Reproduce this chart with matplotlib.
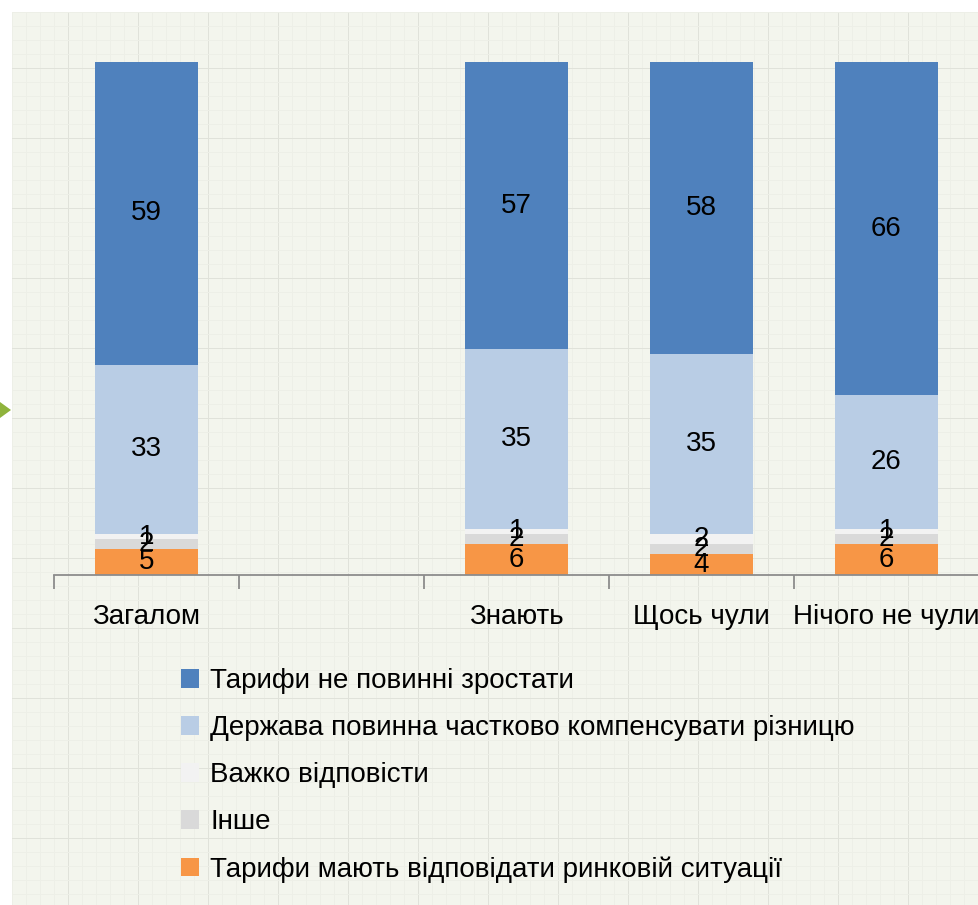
import numpy as np
import matplotlib.pyplot as plt
from matplotlib.patches import Polygon, Patch

plt.rcParams['font.family'] = ['Liberation Sans Narrow', 'Liberation Sans', 'DejaVu Sans']

# data (bottom -> top of each stack)
groups = ['Загалом', '', 'Знають', 'Щось чули', 'Нічого не чули']
series_names = ['Тарифи не повинні зростати',
                'Держава повинна частково компенсувати різницю',
                'Важко відповісти',
                'Інше',
                'Тарифи мають відповідати ринковій ситуації']
market = [5, 0, 6, 4, 6]
other = [2, 0, 2, 2, 2]
hard = [1, 0, 1, 2, 1]
state = [33, 0, 35, 35, 26]
no_rise = [59, 0, 57, 58, 66]

colors = {'no_rise': '#4f81bd', 'state': '#b9cde5', 'hard': '#f2f2f2',
          'other': '#d9d9d9', 'market': '#f79646'}

W, H = 979, 905
fs = 20
fig = plt.figure(figsize=(W / 100, H / 100), dpi=100)
fig.patch.set_facecolor('white')

# slide-like background with faint grid
bg = fig.add_axes([12 / W, 0, 1 - 12 / W, 1 - 12 / H])
bg.set_facecolor('#f3f5ed')
bg.set_xlim(12, W)
bg.set_ylim(H, 12)
for x in np.arange(12, W, 14):
    major = (int(round((x - 12) / 14)) % 5) == 4
    bg.axvline(x, color='#e0e2da' if major else '#edefe7', lw=0.7, zorder=0)
for y in np.arange(12, H, 14):
    major = (int(round((y - 12) / 14)) % 5) == 4
    bg.axhline(y, color='#e0e2da' if major else '#edefe7', lw=0.7, zorder=0)
bg.set_xticks([])
bg.set_yticks([])
for s in bg.spines.values():
    s.set_visible(False)

# green arrow on left edge
fig.patches.append(Polygon([[0, 1 - 402 / H], [11 / W, 1 - 410 / H], [0, 1 - 418 / H]],
                           closed=True, transform=fig.transFigure,
                           facecolor='#8fb33c', edgecolor='none'))

ax = fig.add_axes([54 / W, 1 - 575 / H, (W - 54) / W, 513 / H])
ax.patch.set_visible(False)

x = np.arange(len(groups))
bw = 0.555
stack = [('market', market), ('other', other), ('hard', hard),
         ('state', state), ('no_rise', no_rise)]
bottom = np.zeros(len(groups))
for key, vals in stack:
    vals = np.array(vals, dtype=float)
    ax.bar(x, vals, bw, bottom=bottom, color=colors[key], edgecolor='none')
    for i, v in enumerate(vals):
        if v <= 0:
            continue
        top = min(bottom[i] + v, 100)
        ax.text(x[i], (bottom[i] + top) / 2, '%d' % v, ha='center', va='center',
                fontsize=fs, color='black')
    bottom = bottom + vals

ax.set_ylim(0, 100)
ax.set_xlim(-0.5, len(groups) - 0.5)
ax.set_yticks([])
for s in ['top', 'right', 'left']:
    ax.spines[s].set_visible(False)
ax.spines['bottom'].set_color('#8c8c8c')
ax.spines['bottom'].set_linewidth(1.3)
ax.set_xticks(np.arange(-0.5, len(groups) + 0.5, 1), minor=True)
ax.set_xticks(x)
ax.set_xticklabels(groups, fontsize=fs)
ax.tick_params(axis='x', which='major', length=0, pad=21)
ax.tick_params(axis='x', which='minor', length=10, width=1.3, color='#8c8c8c')

handles = [Patch(facecolor=colors[k], edgecolor='none')
           for k in ['no_rise', 'state', 'hard', 'other', 'market']]
fig.legend(handles, series_names, loc='upper left',
           bbox_to_anchor=(181 / W, 1 - 668 / H), frameon=False, fontsize=fs,
           handlelength=0.65, handleheight=0.65, handletextpad=0.4,
           labelspacing=0.76, borderpad=0, borderaxespad=0)

fig.savefig('out.png', dpi=100, facecolor=fig.get_facecolor())
